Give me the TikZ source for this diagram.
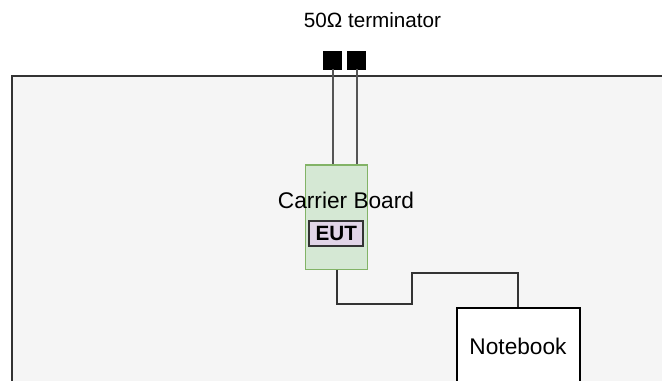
\documentclass[tikz,border=0pt]{standalone}
\usepackage{fontspec}
\setmainfont{Liberation Sans}
\definecolor{bgfill}{HTML}{F5F5F5}
\definecolor{bgline}{HTML}{333333}
\definecolor{cbfill}{HTML}{D5E8D4}
\definecolor{cbline}{HTML}{82B366}
\definecolor{eutfill}{HTML}{E1D5E7}
\definecolor{wire}{HTML}{555555}
\begin{document}
\begin{tikzpicture}[x=0.75pt,y=-0.75pt,
  room/.style={draw=bgline,fill=bgfill,line width=1.5pt},
  termbox/.style={draw=black,fill=black,minimum width=13.5pt,minimum height=13.5pt,inner sep=0pt},
  board/.style={draw=cbline,fill=cbfill,line width=0.9pt,minimum width=46.2pt,minimum height=78.2pt,inner sep=0pt},
  eutbox/.style={draw=bgline,fill=eutfill,line width=1.3pt,minimum width=40.5pt,minimum height=19pt,inner sep=0pt,font=\fontsize{15.5}{18}\selectfont\bfseries},
  nbbox/.style={draw=black,fill=white,line width=1.5pt,minimum width=91.8pt,minimum height=68.8pt,inner sep=0pt},
  lbl/.style={inner sep=0pt,font=\fontsize{17}{20}\selectfont},
  wireline/.style={draw=wire,line width=1.5pt},
  cable/.style={draw=bgline,line width=1.5pt}]
\useasboundingbox (0,0) rectangle (662,380);
\begin{scope}
\clip (0,0) rectangle (662,380);
\draw[room] (11.5,76) rectangle (720,440);
\node[board] (carrier) at (336.5,217.2) {};
\node[lbl] (cbtext) at (346,200) {Carrier Board};
\node[eutbox] (eut) at (336.3,233.3) {EUT};
\node[termbox] (t1) at (332.5,60) {};
\node[termbox] (t2) at (356.5,60) {};
\draw[wireline] (t1.south) -- (t1.south |- carrier.north);
\draw[wireline] (t2.south) -- (t2.south |- carrier.north);
\node[nbbox] (nb) at (518.5,354.2) {};
\node[lbl] (nbtext) at (518,346) {Notebook};
\coordinate (c1) at (336.7,304.3);
\coordinate (c2) at (412.3,304.3);
\coordinate (c3) at (412.3,273.3);
\coordinate (c4) at (518.3,273.3);
\draw[cable] (c1 |- carrier.south) -- (c1) -- (c2) -- (c3) -- (c4) -- (c4 |- nb.north);
\end{scope}
\node[inner sep=0pt,font=\fontsize{15.5}{18}\selectfont] (term) at (372.5,20) {50Ω terminator};
\end{tikzpicture}
\end{document}
